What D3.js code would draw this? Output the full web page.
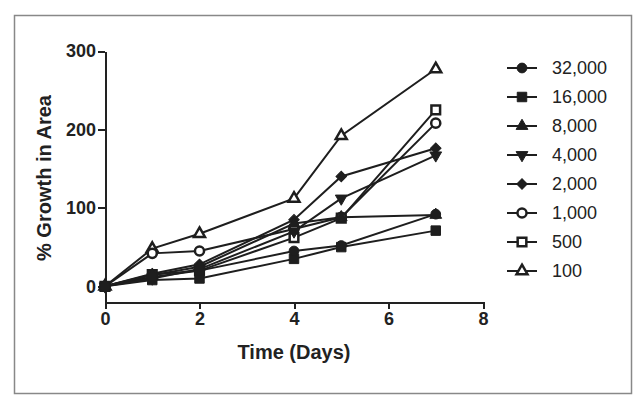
<!DOCTYPE html>
<meta charset="utf-8">
<style>
 body { margin: 0; background: #fff; }
 text { font-family: "Liberation Sans", Arial, sans-serif; fill: #222; }
</style>
<body>
<script src="https://cdn.jsdelivr.net/npm/d3@7"></script>
<script>

 var days = [0, 1, 2, 4, 5, 7];

 var seriesNames = ["32,000", "16,000", "8,000", "4,000", "2,000", "1,000", "500", "100"];

 var s32000 = [0, 12, 20, 45, 52, 92];
 var s16000 = [0, 8, 10, 35, 50, 71];
 var s8000  = [0, 14, 25, 80, 88, 91];
 var s4000  = [0, 10, 22, 70, 112, 167];
 var s2000  = [0, 16, 28, 85, 140, 176];
 var s1000  = [0, 42, 45, 73, 88, 208];
 var s500   = [0, 15, 20, 62, 87, 225];
 var s100   = [0, 48, 67, 112, 192, 277];

 var yTicks = [0, 100, 200, 300];
 var xTicks = [0, 2, 4, 6, 8];

 var allSeries = [s32000, s16000, s8000, s4000, s2000, s1000, s500, s100];

 // marker style per series: shape, filled?, rotation
 var markers = [
     {type: d3.symbolCircle,   size: 75, open: false, rot: 0},
     {type: d3.symbolSquare,   size: 90, open: false, rot: 0},
     {type: d3.symbolTriangle, size: 60, open: false, rot: 0},
     {type: d3.symbolTriangle, size: 60, open: false, rot: 180},
     {type: d3.symbolSquare,   size: 55, open: false, rot: 45},
     {type: d3.symbolCircle,   size: 65, open: true,  rot: 0},
     {type: d3.symbolSquare,   size: 75, open: true,  rot: 0},
     {type: d3.symbolTriangle, size: 52, open: true,  rot: 0}
 ];

 var W = 640, H = 399;

 var svg = d3.select("body").append("svg")
             .attr("width", W)
             .attr("height", H);

 // outer frame
 svg.append("rect")
    .attr("x", 14.5).attr("y", 15.5)
    .attr("width", 617).attr("height", 378)
    .attr("fill", "none")
    .attr("stroke", "#888")
    .attr("stroke-width", 1.5);

 var xScale = d3.scaleLinear().domain([0, 8]).range([105, 483]);
 var yScale = d3.scaleLinear().domain([-20, 300]).range([302, 51]);

 var xAxis = d3.axisBottom(xScale).tickValues(xTicks).tickSize(7).tickPadding(3).tickSizeOuter(0);
 var yAxis = d3.axisLeft(yScale).tickValues(yTicks).tickSize(7).tickPadding(2).tickSizeOuter(0);

 function styleAxis(g) {
     g.selectAll("path, line")
      .attr("stroke", "#222")
      .attr("stroke-width", 2)
      .style("shape-rendering", "crispEdges");
     g.selectAll("text")
      .attr("fill", "#222")
      .style("font-family", "'Liberation Sans', Arial, sans-serif")
      .style("font-size", "18px")
      .style("font-weight", "bold");
 }

 svg.append("g")
    .attr("transform", "translate(0," + yScale(-20) + ")")
    .call(xAxis)
    .call(styleAxis);

 svg.append("g")
    .attr("transform", "translate(" + xScale(0) + ",0)")
    .call(yAxis)
    .call(styleAxis);

 svg.append("text")
    .attr("x", 294).attr("y", 359)
    .attr("text-anchor", "middle")
    .style("font-size", "20px").style("font-weight", "bold")
    .text("Time (Days)");

 svg.append("text")
    .attr("transform", "translate(51,178) rotate(-90)")
    .attr("text-anchor", "middle")
    .style("font-size", "20px").style("font-weight", "bold")
    .text("% Growth in Area");

 var line = d3.line()
              .x(function(d, i) { return xScale(days[i]); })
              .y(function(d) { return yScale(d); });

 var sym = function(m) { return d3.symbol().type(m.type).size(m.size)(); };

 var plot = svg.append("g");

 // lines first, then markers on top
 allSeries.forEach(function(vals) {
     plot.append("path")
         .datum(vals)
         .attr("fill", "none")
         .attr("stroke", "#1e1e1e")
         .attr("stroke-width", 2)
         .attr("d", line);
 });

 // draw markers last series first so the first series sits on top
 allSeries.slice().reverse().forEach(function(vals, r) {
     var m = markers[allSeries.length - 1 - r];
     plot.selectAll(null)
         .data(vals)
         .enter().append("path")
         .attr("d", sym(m))
         .attr("transform", function(d, i) {
             return "translate(" + xScale(days[i]) + "," + yScale(d) + ") rotate(" + m.rot + ")";
         })
         .attr("fill", m.open ? "#fff" : "#1e1e1e")
         .attr("stroke", "#1e1e1e")
         .attr("stroke-width", m.open ? 2.5 : 1);
 });

 // legend
 var legend = svg.append("g");
 seriesNames.forEach(function(name, k) {
     var y = 68 + k * 29;
     var m = markers[k];
     legend.append("line")
           .attr("x1", 507).attr("x2", 537)
           .attr("y1", y).attr("y2", y)
           .attr("stroke", "#1e1e1e").attr("stroke-width", 2);
     legend.append("path")
           .attr("d", sym(m))
           .attr("transform", "translate(522," + y + ") rotate(" + m.rot + ")")
           .attr("fill", m.open ? "#fff" : "#1e1e1e")
           .attr("stroke", "#1e1e1e")
           .attr("stroke-width", m.open ? 2.5 : 1);
     legend.append("text")
           .attr("x", 552).attr("y", y)
           .attr("dy", "0.36em")
           .style("font-size", "18px")
           .text(name);
 });

</script>
